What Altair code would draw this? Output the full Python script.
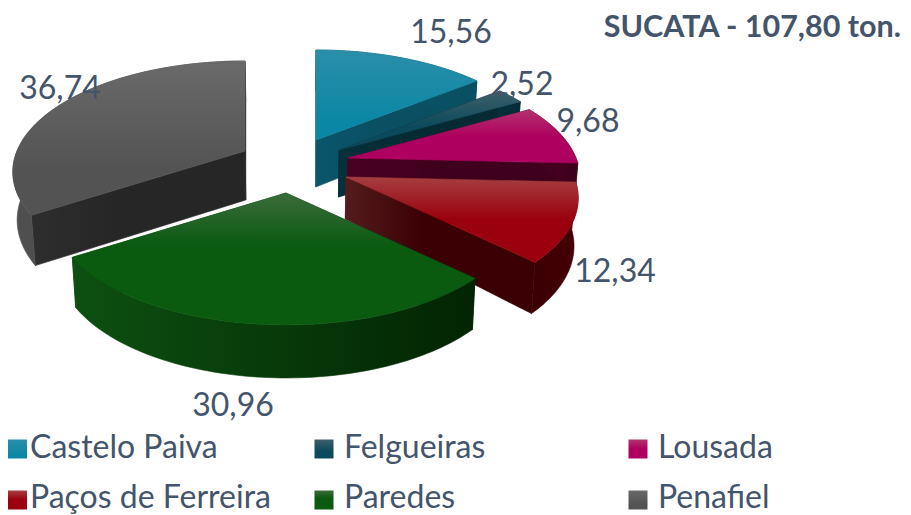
import numpy as np
import pandas as pd
import altair as alt

# ---- chart values
categories = ["Castelo Paiva", "Felgueiras", "Lousada", "Paços de Ferreira", "Paredes", "Penafiel"]
values = [15.56, 2.52, 9.68, 12.34, 30.96, 36.74]
value_labels = ["15,56", "2,52", "9,68", "12,34", "30,96", "36,74"]
title_text = "SUCATA - 107,80 ton."

# ---- slice explosion (where each slice's tip sits) and its thickness there
tip_x = [316, 339, 348, 346, 286, 245]
tip_y = [140, 150, 158, 177, 193, 151]
tip_depth = [47, 47, 47, 42, 47, 49]

# ---- colours
top_light = ["#2B8EA9", "#3F5F6A", "#B2336F", "#A53E40", "#3B6C3B", "#6A6A6A"]
top_solid = ["#0A87A4", "#0B4A5C", "#AE005E", "#9A000D", "#0A5A10", "#535353"]
top_stop = [0.8, 0.6, 0.5, 0.5, 0.4, 0.7]
radial_a = ["#0A566A", "#06303C", "#4A0022", "#551C1E", "#0B4A0E", "#2E2E2E"]
radial_b = ["#0A4F62", "#052A34", "#3E001C", "#3A0003", "#032A04", "#262626"]
outer_a = ["#0A566A", "#06303C", "#4A0022", "#3A0003", "#0D5011", "#505050"]
outer_b = ["#0A4F62", "#052A34", "#3E001C", "#440004", "#022402", "#3C3C3C"]

label_x = [451, 522, 588, 615, 233, 60]
label_y = [33, 85, 122, 272, 406, 89]
legend_col = [0, 1, 2, 0, 1, 2]
legend_row = [0, 0, 0, 1, 1, 1]
legend_swatch_x = [17.5, 324, 638]
legend_text_x = [30, 344, 658]
legend_swatch_y = [449, 500]
legend_y = [448, 498]

TEXT = "#44546A"
FONT = "Lato"
RX, RY, K = 228.0, 107.0, 0.189

X = alt.Scale(domain=[8, 903], range=[0, 895], nice=False, zero=False)
Y = alt.Scale(domain=[8, 515], range=[0, 507], nice=False, zero=False)


def project(ax, ay, th):
    u, v = np.sin(th), -np.cos(th)
    w = 1 - K * v
    return ax + RX * u / w, ay + RY * v / w, v


def lower(x, y, d):
    return x - (x - 300) * 0.015, y + d


def grad(stops, vertical=True):
    return alt.LinearGradient(
        gradient="linear",
        stops=[alt.GradientStop(offset=o, color=c) for o, c in stops],
        x1=0, y1=0, x2=0 if vertical else 1, y2=1 if vertical else 0,
    )


def poly(xs, ys, fill):
    df = pd.DataFrame({"x": xs, "y": ys, "i": np.arange(len(xs))})
    return alt.Chart(df).mark_line(fill=fill, stroke=fill, strokeWidth=0.6).encode(
        x=alt.X("x:Q", scale=X, axis=None),
        y=alt.Y("y:Q", scale=Y, axis=None),
        order=alt.Order("i:Q"),
    )


layers = []
total = sum(values)
cum = np.concatenate([[0], np.cumsum(values)]) / total * 2 * np.pi
order = [5, 0, 1, 2, 3, 4]  # back to front
for s in order:
    ax, ay, dA = tip_x[s], tip_y[s], tip_depth[s]
    th = np.linspace(cum[s], cum[s + 1], 80)
    px, py, pv = project(ax, ay, th)
    d = 47 + 6 * pv
    bx, by = lower(px, py, d)
    tbx, tby = lower(ax, ay, dA)
    rgrad = grad([(0, radial_a[s]), (0.4, radial_b[s]), (1, radial_b[s])], vertical=False)
    # the two straight walls
    layers.append(poly([ax, px[0], bx[0], tbx, ax], [ay, py[0], by[0], tby, ay], rgrad))
    layers.append(poly([ax, px[-1], bx[-1], tbx, ax], [ay, py[-1], by[-1], tby, ay], rgrad))
    # the curved wall
    layers.append(poly(list(px) + list(bx[::-1]) + [px[0]], list(py) + list(by[::-1]) + [py[0]],
                       grad([(0, outer_a[s]), (1, outer_b[s])], vertical=False)))
    # the top face
    layers.append(poly([ax] + list(px) + [ax], [ay] + list(py) + [ay],
                       grad([(0, top_light[s]), (top_stop[s], top_solid[s]), (1, top_solid[s])])))

# value labels
labels_df = pd.DataFrame({"t": value_labels, "x": label_x, "y": label_y})
layers.append(alt.Chart(labels_df).mark_text(font=FONT, fontSize=32, color=TEXT, align="center", baseline="middle").encode(
    x=alt.X("x:Q", scale=X, axis=None), y=alt.Y("y:Q", scale=Y, axis=None), text="t:N"))

# title
title_df = pd.DataFrame({"t": [title_text], "x": [901], "y": [28]})
layers.append(alt.Chart(title_df).mark_text(font=FONT, fontSize=30.5, fontWeight="bold", color=TEXT, align="right", baseline="middle").encode(
    x=alt.X("x:Q", scale=X, axis=None), y=alt.Y("y:Q", scale=Y, axis=None), text="t:N"))

# legend
for s, name in enumerate(categories):
    df = pd.DataFrame({"x": [legend_swatch_x[legend_col[s]]], "y": [legend_swatch_y[legend_row[s]]]})
    layers.append(alt.Chart(df).mark_point(
        shape="square", size=361, filled=True, opacity=1, strokeWidth=0,
        fill=grad([(0, top_light[s]), (top_stop[s], top_solid[s]), (1, top_solid[s])])).encode(
        x=alt.X("x:Q", scale=X, axis=None), y=alt.Y("y:Q", scale=Y, axis=None)))
legend_df = pd.DataFrame({
    "t": categories,
    "x": [legend_text_x[c] for c in legend_col],
    "y": [legend_y[r] for r in legend_row],
})
layers.append(alt.Chart(legend_df).mark_text(font=FONT, fontSize=32, color=TEXT, align="left", baseline="middle").encode(
    x=alt.X("x:Q", scale=X, axis=None), y=alt.Y("y:Q", scale=Y, axis=None), text="t:N"))

chart = alt.layer(*layers).properties(
    width=895, height=507, padding=0, autosize=alt.AutoSizeParams(type="none"), background="white",
).configure_view(stroke=None)

chart.save("out.html", embed_options={"renderer": "svg", "actions": False})
